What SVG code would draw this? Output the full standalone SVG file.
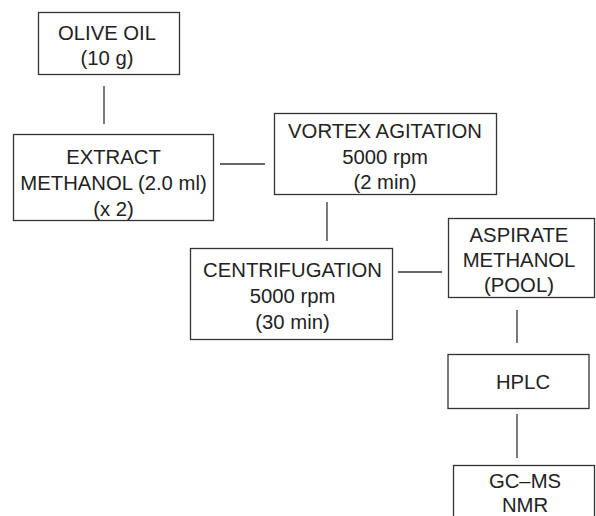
<svg xmlns="http://www.w3.org/2000/svg" width="596" height="516" viewBox="0 0 596 516">
<style>
.box{fill:#fff;stroke:#333;stroke-width:1.3}
.ln{stroke:#333;stroke-width:1.3;fill:none}
text{font-family:"Liberation Sans",Arial,sans-serif;font-size:20.3px;fill:#222;text-anchor:middle}
</style>
<rect width="596" height="516" fill="#fff"/>
<g id="connectors">
<line class="ln" x1="104" y1="86" x2="104" y2="124"/>
<line class="ln" x1="220" y1="164" x2="265" y2="164"/>
<line class="ln" x1="327" y1="202" x2="327" y2="241"/>
<line class="ln" x1="398" y1="272" x2="442" y2="272"/>
<line class="ln" x1="517" y1="310" x2="517" y2="343"/>
<line class="ln" x1="517" y1="414" x2="517" y2="458"/>
</g>
<g id="olive">
<rect class="box" x="38.5" y="12.5" width="141" height="62"/>
<text x="107" y="40">OLIVE OIL</text>
<text x="107" y="65">(10 g)</text>
</g>
<g id="extract">
<rect class="box" x="13.5" y="134.5" width="200" height="86"/>
<text x="113.5" y="163.5">EXTRACT</text>
<text x="113.5" y="190">METHANOL (2.0 ml)</text>
<text x="113.5" y="215.5">(x 2)</text>
</g>
<g id="vortex">
<rect class="box" x="274.5" y="113.5" width="222" height="81"/>
<text x="385" y="137.5">VORTEX AGITATION</text>
<text x="385" y="163.5">5000 rpm</text>
<text x="385" y="189">(2 min)</text>
</g>
<g id="centrifugation">
<rect class="box" x="190.5" y="248.5" width="202" height="91"/>
<text x="292.5" y="277">CENTRIFUGATION</text>
<text x="292.5" y="303">5000 rpm</text>
<text x="292.5" y="328.5">(30 min)</text>
</g>
<g id="aspirate">
<rect class="box" x="448.5" y="218.5" width="146" height="79"/>
<text x="519" y="241.5">ASPIRATE</text>
<text x="519" y="266.5">METHANOL</text>
<text x="519" y="291.5">(POOL)</text>
</g>
<g id="hplc">
<rect class="box" x="448" y="354.5" width="141" height="54"/>
<text x="523" y="388.5">HPLC</text>
</g>
<g id="gcms">
<rect class="box" x="453.5" y="465.5" width="141" height="60"/>
<text x="525" y="487.5">GC–MS</text>
<text x="525" y="512">NMR</text>
</g>
</svg>
